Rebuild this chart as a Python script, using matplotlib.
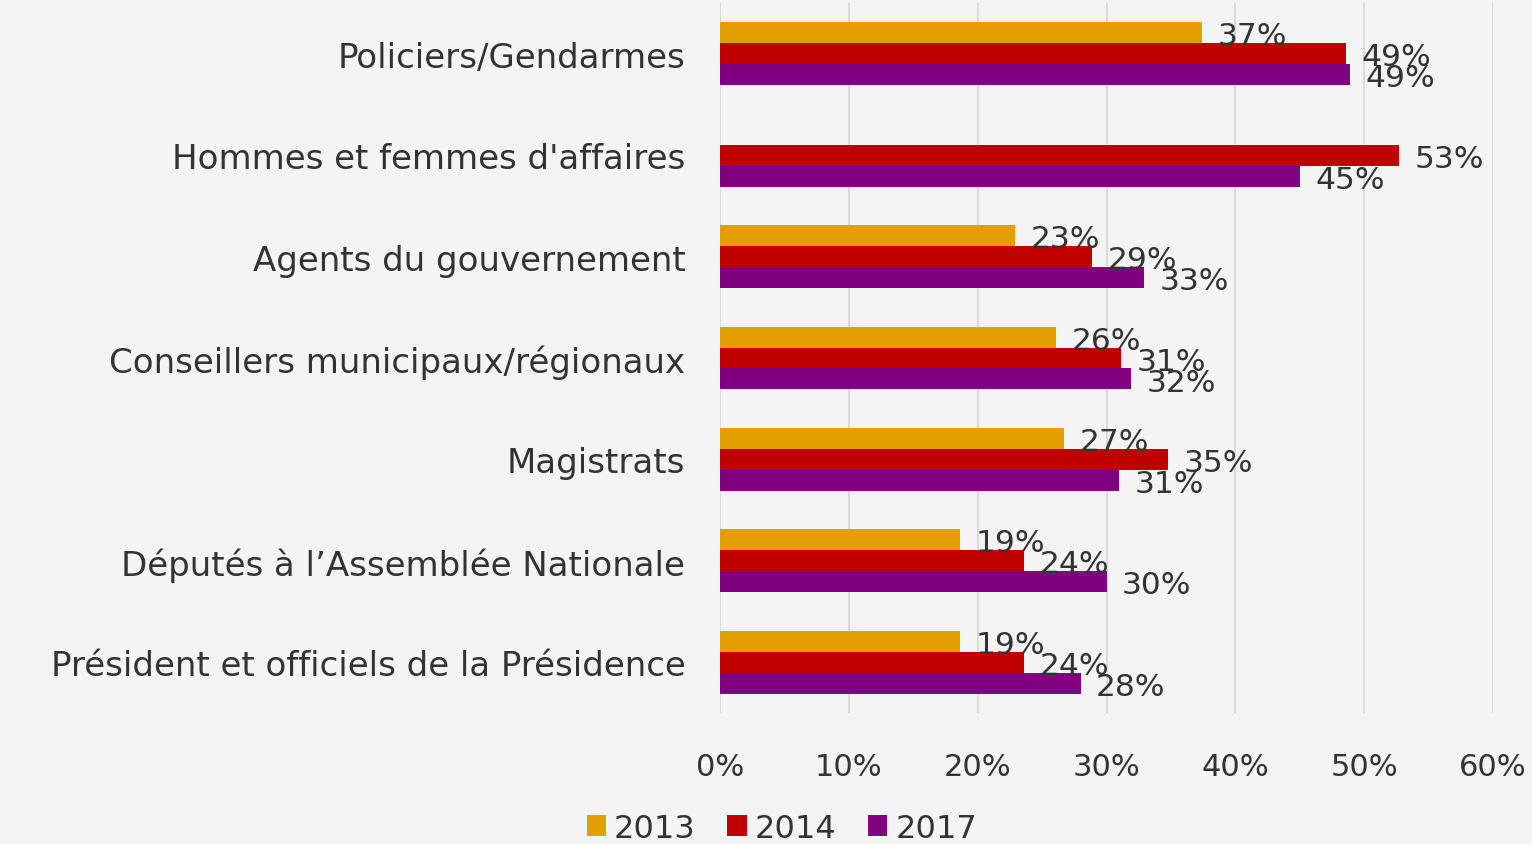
import numpy as np
import matplotlib.pyplot as plt

categories = ["Policiers/Gendarmes", "Hommes et femmes d'affaires", "Agents du gouvernement",
              "Conseillers municipaux/régionaux", "Magistrats",
              "Députés à l’Assemblée Nationale", "Président et officiels de la Présidence"]
v2013 = [37.4, np.nan, 22.9, 26.1, 26.7, 18.6, 18.6]
v2014 = [48.6, 52.7, 28.9, 31.1, 34.8, 23.6, 23.6]
v2017 = [48.9, 45.0, 32.9, 31.9, 31.0, 30.0, 28.0]
years = ["2013", "2014", "2017"]
colors = ["#E59E00", "#C00000", "#800080"]

plt.rcParams['font.family'] = ['DejaVu Sans']
txt = "#333333"
bg = "#F4F4F4"

fig = plt.figure(figsize=(15.32, 8.45), dpi=100, facecolor=bg)
ax = fig.add_axes([720/1532, 1-714/845, (1493-720)/1532, 710/845])
ax.set_facecolor(bg)

y = np.arange(len(categories))
h = 0.207
for i, (vals, lab, c) in enumerate(zip([v2013, v2014, v2017], years, colors)):
    pos = y + (i - 1) * h
    ax.barh(pos, np.nan_to_num(vals), height=h, color=c, label=lab, zorder=3)
    for p, v in zip(pos, vals):
        if np.isnan(v):
            continue
        ax.text(v + 1.2, p + 0.03, "%d%%" % int(v + 0.5), va="center", ha="left",
                fontsize=22.5, color=txt, zorder=4)

ax.set_ylim(len(categories) - 0.5, -0.5)
ax.set_xlim(0, 60)
ax.set_xticks(np.arange(0, 61, 10))
ax.set_xticklabels(["%d%%" % t for t in range(0, 61, 10)])
ax.set_yticks(y)
ax.set_yticklabels(categories)
ax.tick_params(axis="x", length=0, pad=28, labelsize=22, colors=txt)
ax.tick_params(axis="y", length=0, pad=25, labelsize=24.5, colors=txt)
ax.grid(axis="x", color="#D9D9D9", linewidth=1.3, zorder=0)
for s in ax.spines.values():
    s.set_visible(False)

ax.legend(loc="upper center", bbox_to_anchor=(0.08, -0.1), ncol=3, frameon=False,
          fontsize=23, labelcolor=txt, handlelength=0.6, handleheight=0.6,
          handletextpad=0.25, columnspacing=1.0)

fig.savefig("out.png", dpi=100, facecolor=bg)
